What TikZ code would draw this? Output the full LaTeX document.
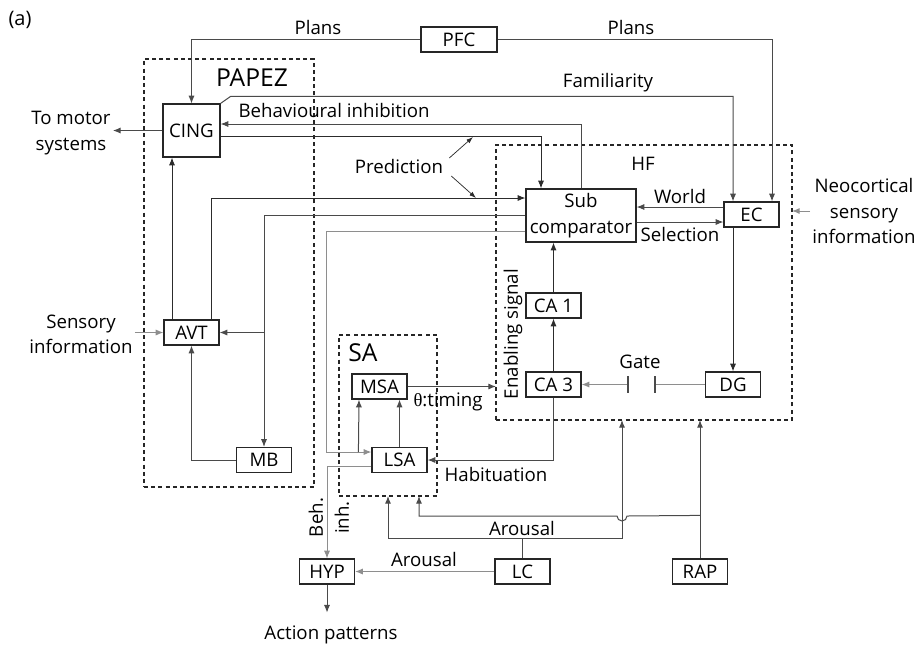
\documentclass[tikz,border=0pt]{standalone}
\usepackage{fontspec}
\setmainfont{Open Sans}
\newfontfamily\thetafont{Liberation Serif}
\usetikzlibrary{positioning, arrows.meta, calc}
\definecolor{linedark}{HTML}{2C2C2C}
\definecolor{linemid}{HTML}{4A4A4A}
\definecolor{linesoft}{HTML}{8E8E8E}
\definecolor{boxline}{HTML}{262626}

\begin{document}
\begin{tikzpicture}[
  x=0.75pt, y=-0.75pt,
  font=\fontsize{14}{19}\selectfont,
  unit/.style={draw=boxline, line width=0.9pt, minimum width=41.25pt,
    minimum height=18.75pt, inner sep=1pt},
  region/.style={draw=black!85, dash pattern=on 3pt off 2.4pt, line width=0.8pt,
    inner sep=0pt, outer sep=0pt},
  arrow/.style={-{Latex[length=5.8pt,width=4.6pt]}, line width=0.75pt, draw=linedark},
  midarrow/.style={arrow, draw=linemid},
  softarrow/.style={arrow, draw=linesoft},
  thinarrow/.style={-{Latex[length=5pt,width=3.5pt]}, line width=0.55pt, draw=linedark},
  lbl/.style={inner sep=0pt, align=center},
  big/.style={font=\fontsize{18.5}{22}\selectfont},
]
\useasboundingbox (0,0) rectangle (923,644);

% ---- regions ----
\node[region, minimum width=127.5pt, minimum height=321pt] (papez) at (229,273) {};
\node[region, minimum width=222pt, minimum height=206.25pt] (hf) at (644,282.5) {};
\node[region, minimum width=73.5pt, minimum height=120.75pt] (sa) at (388,415.5) {};
\node[big] at (252,78) {PAPEZ};
\node[big] at (363,353) {SA};
\node at (643,164) {HF};
\node[lbl, font=\fontsize{15}{19}\selectfont] at (20,20) {(a)};

% ---- boxes ----
\node[unit, minimum width=57pt] (pfc) at (459,39.5) {PFC};
\node[unit, minimum width=42.75pt, minimum height=39.75pt] (cing) at (191.5,130.5) {CING};
\node[unit] (avt) at (191.5,332.5) {AVT};
\node[unit] (mb) at (264,460) {MB};
\node[unit, minimum width=82.5pt, minimum height=39.75pt, inner sep=0pt, align=center]
  (sub) at (581,215.5) {Sub\\comparator};
\node[unit] (ec) at (751.5,214.5) {EC};
\node[unit] (ca1) at (553.5,305.5) {CA 1};
\node[unit] (ca3) at (553.5,384.5) {CA 3};
\node[unit] (dg) at (733,384.5) {DG};
\node[unit] (msa) at (379.5,386.5) {MSA};
\node[unit] (lsa) at (399.5,460) {LSA};
\node[unit] (hyp) at (327,571.5) {HYP};
\node[unit] (lc) at (522.5,571.5) {LC};
\node[unit] (rap) at (700,571.5) {RAP};

% ---- top: plans, familiarity, inhibition ----
\draw[midarrow] (pfc.west) -| (cing.north);
\draw[midarrow] (pfc.east) -| ($(ec.north)+(20.5,0)$);
\node[lbl] at (318,27) {Plans};
\node[lbl] at (631,27) {Plans};
\draw[midarrow] (cing.north east) -- ++(10,-7) -| ($(ec.north)+(-18.5,0)$);
\node[lbl] at (608,83) {Familiarity};
\draw[midarrow] (sub.north) |- ($(cing.east)+(0,-6.5)$);
\node[lbl] at (334,110) {Behavioural inhibition};
\draw[arrow] ($(cing.east)+(0,5.5)$) -| ($(sub.north)+(-40,0)$);
\node[lbl] (motor) at (71,133) {To motor\\systems};
\draw[midarrow] (cing.west) -- ($(cing.west -| motor.east)+(2,0)$);

% ---- prediction ----
\node[lbl] (pred) at (399,166) {Prediction};
\coordinate (predup) at (473,137);
\coordinate (preddn) at (476,198);
\draw[thinarrow] ($(pred.east)+(6,-8)$) -- (predup);
\draw[thinarrow] ($(pred.east)+(8,10)$) -- (preddn);

% ---- PAPEZ loop ----
\node[lbl] (sensory) at (81,334) {Sensory\\information};
\draw[softarrow] ($(sensory.east |- avt.west)+(2,0)$) -- (avt.west);
\draw[arrow] ($(avt.north)+(-19.5,0)$) -- ($(cing.south)+(-19.5,0)$);
\draw[arrow] ($(avt.north)+(19.5,0)$) |- ($(sub.west)+(0,-17.5)$);
\draw[midarrow] (sub.west) -| (mb.north);
\draw[midarrow] (mb.north |- avt.east) -- (avt.east);
\draw[midarrow] (mb.west) -| (avt.south);

% ---- SA ----
\draw[softarrow] ($(sub.west)+(0,15.5)$) -| ($(lsa.west)+(-45,-8)$) -- ($(lsa.west)+(0,-8)$);
\draw[midarrow] ($(lsa.west)+(-13,-8)$) -- ($(msa.south)+(-20.5,0)$);
\draw[midarrow] (lsa.north) -- (lsa.north |- msa.south);
\draw[midarrow] (msa.east) -- (msa.east -| hf.west);
\node[lbl] at (448,402) {{\thetafont θ}:timing};
\draw[midarrow] (ca3.south) |- (lsa.east);
\node[lbl] at (496,474) {Habituation};

% ---- HF ----
\draw[midarrow] ($(ec.west)+(0,-7.5)$) -- ($(sub.east)+(0,-8.5)$);
\draw[midarrow] ($(sub.east)+(0,6.5)$) -- ($(ec.west)+(0,7.5)$);
\node[lbl] at (680,196) {World};
\node[lbl] at (680,234) {Selection};
\draw[arrow] (ca1.north) -- (ca1.north |- sub.south);
\draw[arrow] (ca3.north) -- (ca1.south);
\draw[arrow] ($(ec.south)+(-18.5,0)$) -- (dg.north);
\node[lbl, rotate=90] at (513,334) {Enabling signal};
\node[lbl] (neo) at (864,211) {Neocortical\\sensory\\information};
\draw[softarrow] ($(neo.west)+(-2,0)$) -- (neo.west -| hf.east);
\coordinate (gateR) at (655,384.5);
\coordinate (gateL) at (628,384.5);
\draw[draw=linesoft, line width=0.75pt] (dg.west) -- (gateR);
\draw[softarrow] (gateL) -- (ca3.east);
\draw[draw=linemid, line width=0.9pt] ($(gateL)+(0,-8.5)$) -- ($(gateL)+(0,8.5)$);
\draw[draw=linemid, line width=0.9pt] ($(gateR)+(0,-8.5)$) -- ($(gateR)+(0,8.5)$);
\node[lbl] at (640,362) {Gate};

% ---- bottom: output and arousal ----
\draw[softarrow] ($(lsa.west)+(0,6)$) -| (hyp.north);
\node[lbl, rotate=90, font=\fontsize{14}{19.5}\selectfont] at (329,517.5) {Beh.\\inh.};
\draw[midarrow] (hyp.south) -- ++(0,28);
\node[lbl] at (331,635) {Action patterns};
\draw[softarrow] (lc.west) -- (hyp.east);
\node[lbl] at (424,559) {Arousal};
\draw[midarrow] (lc.north) -- ++(0,-20) -| (sa.south);
\draw[midarrow] (lc.north) ++(0,-20) -| ($(hf.south)+(-22,0)$);
\node[lbl] at (522,528) {Arousal};
\draw[midarrow] (rap.north) -- (rap.north |- hf.south);
\draw[midarrow] ($(rap.north)+(0,-43)$) -- ($(hf.south)+(-17,96)$)
  arc[start angle=0, end angle=-180, radius=3.75pt] -| ($(sa.south)+(31,0)$);

\end{tikzpicture}
\end{document}
